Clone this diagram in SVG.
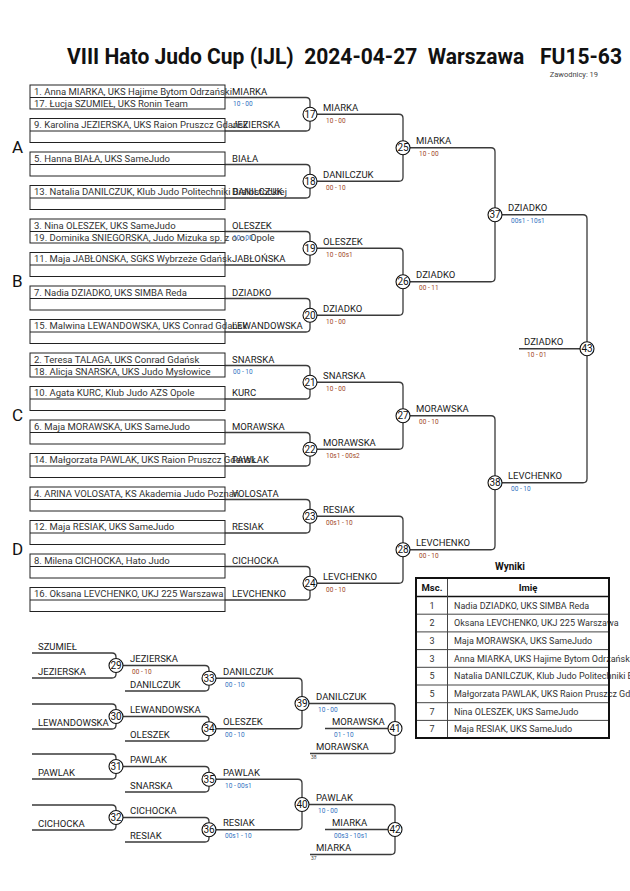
<svg xmlns="http://www.w3.org/2000/svg" width="630" height="891" viewBox="0 0 630 891">
<style>
text{font-family:Roboto,"Liberation Sans",sans-serif}
.box{fill:none;stroke:#222;stroke-width:1}
.bt{font-size:9.5px;fill:#333}
.nm{font-size:9.5px;fill:#222}
.sb{font-size:6.5px;fill:#2f6fc0}
.sr{font-size:6.5px;fill:#a0461e}
.ln{fill:none;stroke:#3a3a3a;stroke-width:1.3}
.cc{fill:#fff;stroke:#111;stroke-width:1.1}
.cn{font-size:10px;text-anchor:middle;fill:#111}
.pl{font-size:17px;fill:#111}
.sm{font-size:5px;fill:#444}
.th{font-size:9.5px;font-weight:bold;fill:#111;text-anchor:middle}
.tn{font-size:9px;fill:#333;text-anchor:middle}
.tt{font-size:9px;fill:#333}
.tl{stroke:#444;stroke-width:1}
</style>
<rect width="630" height="891" fill="#fff"/>
<g id="title">
<text x="67" y="64" font-size="22" font-weight="bold" fill="#111" xml:space="preserve" textLength="555" lengthAdjust="spacingAndGlyphs">VIII Hato Judo Cup (IJL)  2024-04-27  Warszawa   FU15-63</text>
<text x="598" y="77" font-size="7.5" fill="#444" text-anchor="end">Zawodnicy: 19</text>
</g>
<g id="connectors">
<path class="ln" d="M225 97.5H306Q310 97.5 310 101.5V127Q310 131 306 131H225"/>
<path class="ln" d="M225 164.5H306Q310 164.5 310 168.5V194Q310 198 306 198H225"/>
<path class="ln" d="M310 114.25H399Q403 114.25 403 118.25V177.25Q403 181.25 399 181.25H310"/>
<path class="ln" d="M225 231.5H306Q310 231.5 310 235.5V261Q310 265 306 265H225"/>
<path class="ln" d="M225 298.5H306Q310 298.5 310 302.5V328Q310 332 306 332H225"/>
<path class="ln" d="M310 248.25H399Q403 248.25 403 252.25V311.25Q403 315.25 399 315.25H310"/>
<path class="ln" d="M225 365.5H306Q310 365.5 310 369.5V395Q310 399 306 399H225"/>
<path class="ln" d="M225 432.5H306Q310 432.5 310 436.5V462Q310 466 306 466H225"/>
<path class="ln" d="M310 382.25H399Q403 382.25 403 386.25V445.25Q403 449.25 399 449.25H310"/>
<path class="ln" d="M225 499.5H306Q310 499.5 310 503.5V529Q310 533 306 533H225"/>
<path class="ln" d="M225 566.5H306Q310 566.5 310 570.5V596Q310 600 306 600H225"/>
<path class="ln" d="M310 516.25H399Q403 516.25 403 520.25V579.25Q403 583.25 399 583.25H310"/>
<path class="ln" d="M403 147.75H491Q495 147.75 495 151.75V277.75Q495 281.75 491 281.75H403"/>
<path class="ln" d="M403 415.75H491Q495 415.75 495 419.75V545.75Q495 549.75 491 549.75H403"/>
<path class="ln" d="M495 214.75H583Q587 214.75 587 218.75V478.75Q587 482.75 583 482.75H495"/>
<path class="ln" d="M519 348.75H587"/>
<path class="ln" d="M32 653H112Q116 653 116 657V674Q116 678 112 678H32"/>
<path class="ln" d="M32 704H112Q116 704 116 708V725Q116 729 112 729H32"/>
<path class="ln" d="M116 665.5H205Q209 665.5 209 669.5V687Q209 691 205 691H125"/>
<path class="ln" d="M116 716.5H205Q209 716.5 209 720.5V737Q209 741 205 741H125"/>
<path class="ln" d="M209 678.25H298Q302 678.25 302 682.25V724.75Q302 728.75 298 728.75H209"/>
<path class="ln" d="M302 703.5H391Q395 703.5 395 707.5V749.5Q395 753.5 391 753.5H310"/>
<path class="ln" d="M325 728.5H395"/>
<path class="ln" d="M32 754H112Q116 754 116 758V775Q116 779 112 779H32"/>
<path class="ln" d="M32 805H112Q116 805 116 809V826Q116 830 112 830H32"/>
<path class="ln" d="M116 766.5H205Q209 766.5 209 770.5V788Q209 792 205 792H125"/>
<path class="ln" d="M116 817.5H205Q209 817.5 209 821.5V838Q209 842 205 842H125"/>
<path class="ln" d="M209 779.25H298Q302 779.25 302 783.25V825.75Q302 829.75 298 829.75H209"/>
<path class="ln" d="M302 804.5H391Q395 804.5 395 808.5V850.5Q395 854.5 391 854.5H310"/>
<path class="ln" d="M325 829.5H395"/>
</g>
<g id="pool-letters">
<text class="pl" x="12" y="153">A</text>
<text class="pl" x="12" y="287">B</text>
<text class="pl" x="12" y="421">C</text>
<text class="pl" x="12" y="555">D</text>
</g>
<g id="poolA">
<rect class="box" x="30" y="85" width="195" height="24"/><line class="box" x1="30" y1="97.5" x2="225" y2="97.5"/>
<text class="bt" x="34" y="94.5">1. Anna MIARKA, UKS Hajime Bytom Odrzański</text>
<text class="bt" x="34" y="106.5">17. Łucja SZUMIEŁ, UKS Ronin Team</text>
<text class="nm" x="232" y="94.5">MIARKA</text><text class="sb" x="233" y="105.5">10 - 00</text>
<rect class="box" x="30" y="118.5" width="195" height="24"/><line class="box" x1="30" y1="131" x2="225" y2="131"/>
<text class="bt" x="34" y="128">9. Karolina JEZIERSKA, UKS Raion Pruszcz Gdańsk</text>
<text class="nm" x="232" y="128">JEZIERSKA</text>
<rect class="box" x="30" y="152" width="195" height="24"/><line class="box" x1="30" y1="164.5" x2="225" y2="164.5"/>
<text class="bt" x="34" y="161.5">5. Hanna BIAŁA, UKS SameJudo</text>
<text class="nm" x="232" y="161.5">BIAŁA</text>
<rect class="box" x="30" y="185.5" width="195" height="24"/><line class="box" x1="30" y1="198" x2="225" y2="198"/>
<text class="bt" x="34" y="195">13. Natalia DANILCZUK, Klub Judo Politechniki Białostockiej</text>
<text class="nm" x="232" y="195">DANILCZUK</text>
</g>
<g id="poolB">
<rect class="box" x="30" y="219" width="195" height="24"/><line class="box" x1="30" y1="231.5" x2="225" y2="231.5"/>
<text class="bt" x="34" y="228.5">3. Nina OLESZEK, UKS SameJudo</text>
<text class="bt" x="34" y="240.5">19. Dominika SNIEGORSKA, Judo Mizuka sp. z o.o. Opole</text>
<text class="nm" x="232" y="228.5">OLESZEK</text><text class="sb" x="233" y="239.5">10 - 00</text>
<rect class="box" x="30" y="252.5" width="195" height="24"/><line class="box" x1="30" y1="265" x2="225" y2="265"/>
<text class="bt" x="34" y="262">11. Maja JABŁONSKA, SGKS Wybrzeże Gdańsk</text>
<text class="nm" x="232" y="262">JABŁOŃSKA</text>
<rect class="box" x="30" y="286" width="195" height="24"/><line class="box" x1="30" y1="298.5" x2="225" y2="298.5"/>
<text class="bt" x="34" y="295.5">7. Nadia DZIADKO, UKS SIMBA Reda</text>
<text class="nm" x="232" y="295.5">DZIADKO</text>
<rect class="box" x="30" y="319.5" width="195" height="24"/><line class="box" x1="30" y1="332" x2="225" y2="332"/>
<text class="bt" x="34" y="329">15. Malwina LEWANDOWSKA, UKS Conrad Gdańsk</text>
<text class="nm" x="232" y="329">LEWANDOWSKA</text>
</g>
<g id="poolC">
<rect class="box" x="30" y="353" width="195" height="24"/><line class="box" x1="30" y1="365.5" x2="225" y2="365.5"/>
<text class="bt" x="34" y="362.5">2. Teresa TALAGA, UKS Conrad Gdańsk</text>
<text class="bt" x="34" y="374.5">18. Alicja SNARSKA, UKS Judo Mysłowice</text>
<text class="nm" x="232" y="362.5">SNARSKA</text><text class="sb" x="233" y="373.5">00 - 10</text>
<rect class="box" x="30" y="386.5" width="195" height="24"/><line class="box" x1="30" y1="399" x2="225" y2="399"/>
<text class="bt" x="34" y="396">10. Agata KURC, Klub Judo AZS Opole</text>
<text class="nm" x="232" y="396">KURC</text>
<rect class="box" x="30" y="420" width="195" height="24"/><line class="box" x1="30" y1="432.5" x2="225" y2="432.5"/>
<text class="bt" x="34" y="429.5">6. Maja MORAWSKA, UKS SameJudo</text>
<text class="nm" x="232" y="429.5">MORAWSKA</text>
<rect class="box" x="30" y="453.5" width="195" height="24"/><line class="box" x1="30" y1="466" x2="225" y2="466"/>
<text class="bt" x="34" y="463">14. Małgorzata PAWLAK, UKS Raion Pruszcz Gdańsk</text>
<text class="nm" x="232" y="463">PAWLAK</text>
</g>
<g id="poolD">
<rect class="box" x="30" y="487" width="195" height="24"/><line class="box" x1="30" y1="499.5" x2="225" y2="499.5"/>
<text class="bt" x="34" y="496.5">4. ARINA VOLOSATA, KS Akademia Judo Poznań</text>
<text class="nm" x="232" y="496.5">VOLOSATA</text>
<rect class="box" x="30" y="520.5" width="195" height="24"/><line class="box" x1="30" y1="533" x2="225" y2="533"/>
<text class="bt" x="34" y="530">12. Maja RESIAK, UKS SameJudo</text>
<text class="nm" x="232" y="530">RESIAK</text>
<rect class="box" x="30" y="554" width="195" height="24"/><line class="box" x1="30" y1="566.5" x2="225" y2="566.5"/>
<text class="bt" x="34" y="563.5">8. Milena CICHOCKA, Hato Judo</text>
<text class="nm" x="232" y="563.5">CICHOCKA</text>
<rect class="box" x="30" y="587.5" width="195" height="24"/><line class="box" x1="30" y1="600" x2="225" y2="600"/>
<text class="bt" x="34" y="597">16. Oksana LEVCHENKO, UKJ 225 Warszawa</text>
<text class="nm" x="232" y="597">LEVCHENKO</text>
</g>
<g id="m17"><circle class="cc" cx="310" cy="114.25" r="7"/><text class="cn" x="310" y="117.8">17</text><text class="nm" x="323" y="110.75">MIARKA</text><text class="sr" x="326" y="122.75">10 - 00</text></g>
<g id="m18"><circle class="cc" cx="310" cy="181.25" r="7"/><text class="cn" x="310" y="184.8">18</text><text class="nm" x="323" y="177.75">DANILCZUK</text><text class="sr" x="326" y="189.75">00 - 10</text></g>
<g id="m25"><circle class="cc" cx="403" cy="147.75" r="7"/><text class="cn" x="403" y="151.3">25</text><text class="nm" x="416" y="144.25">MIARKA</text><text class="sr" x="419" y="156.25">10 - 00</text></g>
<g id="m19"><circle class="cc" cx="310" cy="248.25" r="7"/><text class="cn" x="310" y="251.8">19</text><text class="nm" x="323" y="244.75">OLESZEK</text><text class="sr" x="326" y="256.75">10 - 00s1</text></g>
<g id="m20"><circle class="cc" cx="310" cy="315.25" r="7"/><text class="cn" x="310" y="318.8">20</text><text class="nm" x="323" y="311.75">DZIADKO</text><text class="sr" x="326" y="323.75">10 - 00</text></g>
<g id="m26"><circle class="cc" cx="403" cy="281.75" r="7"/><text class="cn" x="403" y="285.3">26</text><text class="nm" x="416" y="278.25">DZIADKO</text><text class="sr" x="419" y="290.25">00 - 11</text></g>
<g id="m21"><circle class="cc" cx="310" cy="382.25" r="7"/><text class="cn" x="310" y="385.8">21</text><text class="nm" x="323" y="378.75">SNARSKA</text><text class="sr" x="326" y="390.75">10 - 00</text></g>
<g id="m22"><circle class="cc" cx="310" cy="449.25" r="7"/><text class="cn" x="310" y="452.8">22</text><text class="nm" x="323" y="445.75">MORAWSKA</text><text class="sr" x="326" y="457.75">10s1 - 00s2</text></g>
<g id="m27"><circle class="cc" cx="403" cy="415.75" r="7"/><text class="cn" x="403" y="419.3">27</text><text class="nm" x="416" y="412.25">MORAWSKA</text><text class="sr" x="419" y="424.25">00 - 10</text></g>
<g id="m23"><circle class="cc" cx="310" cy="516.25" r="7"/><text class="cn" x="310" y="519.8">23</text><text class="nm" x="323" y="512.75">RESIAK</text><text class="sr" x="326" y="524.75">00s1 - 10</text></g>
<g id="m24"><circle class="cc" cx="310" cy="583.25" r="7"/><text class="cn" x="310" y="586.8">24</text><text class="nm" x="323" y="579.75">LEVCHENKO</text><text class="sr" x="326" y="591.75">00 - 10</text></g>
<g id="m28"><circle class="cc" cx="403" cy="549.75" r="7"/><text class="cn" x="403" y="553.3">28</text><text class="nm" x="416" y="546.25">LEVCHENKO</text><text class="sr" x="419" y="558.25">00 - 10</text></g>
<g id="m37"><circle class="cc" cx="495" cy="214.75" r="7"/><text class="cn" x="495" y="218.3">37</text><text class="nm" x="508" y="211.25">DZIADKO</text><text class="sb" x="511" y="223.25">00s1 - 10s1</text></g>
<g id="m38"><circle class="cc" cx="495" cy="482.75" r="7"/><text class="cn" x="495" y="486.3">38</text><text class="nm" x="508" y="479.25">LEVCHENKO</text><text class="sb" x="511" y="491.25">00 - 10</text></g>
<g id="m43"><circle class="cc" cx="587" cy="348.75" r="7"/><text class="cn" x="587" y="352.3">43</text><text class="nm" x="524" y="345.25">DZIADKO</text><text class="sr" x="527" y="357.25">10 - 01</text></g>
<g id="rep-entries">
<text class="nm" x="38" y="650">SZUMIEŁ</text>
<text class="nm" x="38" y="675">JEZIERSKA</text>
<text class="nm" x="38" y="726">LEWANDOWSKA</text>
<text class="nm" x="38" y="776">PAWLAK</text>
<text class="nm" x="38" y="827">CICHOCKA</text>
<text class="nm" x="130" y="688">DANILCZUK</text>
<text class="nm" x="130" y="738">OLESZEK</text>
<text class="nm" x="130" y="789">SNARSKA</text>
<text class="nm" x="130" y="839">RESIAK</text>
<text class="nm" x="316" y="750">MORAWSKA</text><text class="sm" x="311" y="759">38</text>
<text class="nm" x="316" y="851">MIARKA</text><text class="sm" x="311" y="860">37</text>
</g>
<g id="m29"><circle class="cc" cx="116" cy="665.5" r="7"/><text class="cn" x="116" y="669">29</text><text class="nm" x="130" y="662">JEZIERSKA</text><text class="sr" x="132" y="674">00 - 10</text></g>
<g id="m30"><circle class="cc" cx="116" cy="716.5" r="7"/><text class="cn" x="116" y="720">30</text><text class="nm" x="130" y="713">LEWANDOWSKA</text></g>
<g id="m33"><circle class="cc" cx="209" cy="678.25" r="7"/><text class="cn" x="209" y="681.8">33</text><text class="nm" x="223" y="674.75">DANILCZUK</text><text class="sb" x="225" y="686.75">00 - 10</text></g>
<g id="m34"><circle class="cc" cx="209" cy="728.75" r="7"/><text class="cn" x="209" y="732.3">34</text><text class="nm" x="223" y="725.25">OLESZEK</text><text class="sb" x="225" y="737.25">00 - 10</text></g>
<g id="m39"><circle class="cc" cx="302" cy="703.5" r="7"/><text class="cn" x="302" y="707">39</text><text class="nm" x="316" y="700">DANILCZUK</text><text class="sb" x="318" y="712">10 - 00</text></g>
<g id="m41"><circle class="cc" cx="395" cy="728.5" r="7"/><text class="cn" x="395" y="732">41</text><text class="nm" x="332" y="725">MORAWSKA</text><text class="sb" x="334" y="737">01 - 10</text></g>
<g id="m31"><circle class="cc" cx="116" cy="766.5" r="7"/><text class="cn" x="116" y="770">31</text><text class="nm" x="130" y="763">PAWLAK</text></g>
<g id="m32"><circle class="cc" cx="116" cy="817.5" r="7"/><text class="cn" x="116" y="821">32</text><text class="nm" x="130" y="814">CICHOCKA</text></g>
<g id="m35"><circle class="cc" cx="209" cy="779.25" r="7"/><text class="cn" x="209" y="782.8">35</text><text class="nm" x="223" y="775.75">PAWLAK</text><text class="sb" x="225" y="787.75">10 - 00s1</text></g>
<g id="m36"><circle class="cc" cx="209" cy="829.75" r="7"/><text class="cn" x="209" y="833.3">36</text><text class="nm" x="223" y="826.25">RESIAK</text><text class="sb" x="225" y="838.25">00s1 - 10</text></g>
<g id="m40"><circle class="cc" cx="302" cy="804.5" r="7"/><text class="cn" x="302" y="808">40</text><text class="nm" x="316" y="801">PAWLAK</text><text class="sb" x="318" y="813">10 - 00</text></g>
<g id="m42"><circle class="cc" cx="395" cy="829.5" r="7"/><text class="cn" x="395" y="833">42</text><text class="nm" x="332" y="826">MIARKA</text><text class="sb" x="334" y="838">00s3 - 10s1</text></g>
<g id="results">
<text x="510" y="570" font-size="10" font-weight="bold" fill="#111" text-anchor="middle">Wyniki</text>
<line class="tl" x1="416" y1="614.2" x2="609" y2="614.2"/>
<line class="tl" x1="416" y1="631.9" x2="609" y2="631.9"/>
<line class="tl" x1="416" y1="649.6" x2="609" y2="649.6"/>
<line class="tl" x1="416" y1="667.3" x2="609" y2="667.3"/>
<line class="tl" x1="416" y1="685" x2="609" y2="685"/>
<line class="tl" x1="416" y1="702.7" x2="609" y2="702.7"/>
<line class="tl" x1="416" y1="720.4" x2="609" y2="720.4"/>
<line x1="416" y1="596.5" x2="609" y2="596.5" stroke="#111" stroke-width="1.5"/>
<line class="tl" x1="447.5" y1="578" x2="447.5" y2="738"/>
<text class="th" x="432" y="591">Msc.</text>
<text class="th" x="528" y="591">Imię</text>
<text class="tn" x="432" y="608.5">1</text><text class="tt" x="454" y="608.5">Nadia DZIADKO, UKS SIMBA Reda</text>
<text class="tn" x="432" y="626.2">2</text><text class="tt" x="454" y="626.2">Oksana LEVCHENKO, UKJ 225 Warszawa</text>
<text class="tn" x="432" y="643.9">3</text><text class="tt" x="454" y="643.9">Maja MORAWSKA, UKS SameJudo</text>
<text class="tn" x="432" y="661.6">3</text><text class="tt" x="454" y="661.6">Anna MIARKA, UKS Hajime Bytom Odrzański</text>
<text class="tn" x="432" y="679.3">5</text><text class="tt" x="454" y="679.3">Natalia DANILCZUK, Klub Judo Politechniki Białostockiej</text>
<text class="tn" x="432" y="697">5</text><text class="tt" x="454" y="697">Małgorzata PAWLAK, UKS Raion Pruszcz Gdańsk</text>
<text class="tn" x="432" y="714.7">7</text><text class="tt" x="454" y="714.7">Nina OLESZEK, UKS SameJudo</text>
<text class="tn" x="432" y="732.4">7</text><text class="tt" x="454" y="732.4">Maja RESIAK, UKS SameJudo</text>
<rect x="416" y="578" width="193" height="160" fill="none" stroke="#111" stroke-width="2"/>
</g>
</svg>
